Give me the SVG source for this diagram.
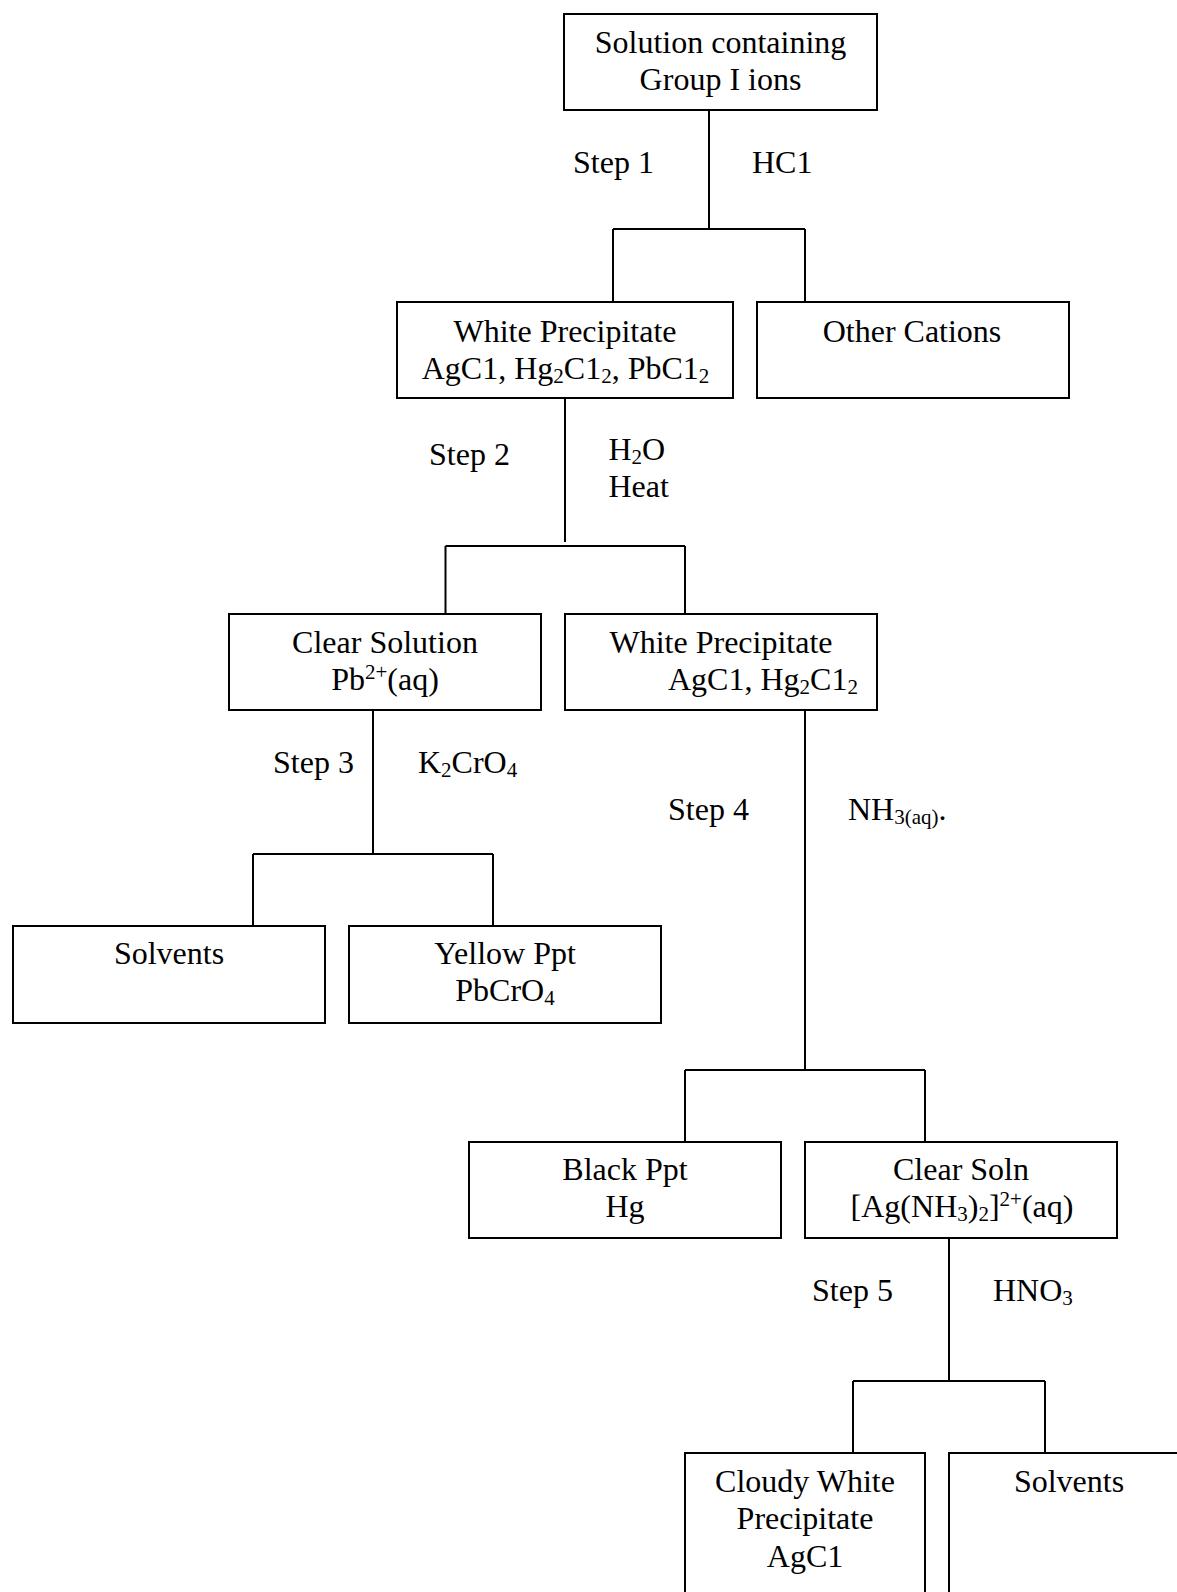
<svg xmlns="http://www.w3.org/2000/svg" width="1177" height="1592" viewBox="0 0 1177 1592">
<style>
.box{fill:#fff;stroke:#000;stroke-width:2}
.ln{fill:none;stroke:#000;stroke-width:2}
text{font-family:"Liberation Serif","Times New Roman",serif;font-size:32px;fill:#000}
.c{text-anchor:middle}
.s{font-size:21px}
</style>
<rect width="1177" height="1592" fill="#fff"/>
<g id="connectors">
<path class="ln" d="M709,110 V229 M613,229 H805 M613,229 V302 M805,229 V302"/>
<path class="ln" d="M565,398 V542 M445.5,546 H685 M445.5,546 V614 M685,546 V614"/>
<path class="ln" d="M373,710 V854 M253,854 H493 M253,854 V926 M493,854 V926"/>
<path class="ln" d="M805,710 V1070 M685,1070 H925 M685,1070 V1142 M925,1070 V1142"/>
<path class="ln" d="M949,1238 V1381 M853,1381 H1045 M853,1381 V1453 M1045,1381 V1453"/>
<text x="573" y="173">Step 1</text>
<text x="752" y="173">HC1</text>
<text x="429" y="465">Step 2</text>
<text x="608.5" y="460">H<tspan class="s" dy="4">2</tspan><tspan dy="-4">O</tspan></text>
<text x="608.5" y="497">Heat</text>
<text x="273" y="773">Step 3</text>
<text x="418" y="773">K<tspan class="s" dy="4">2</tspan><tspan dy="-4">CrO</tspan><tspan class="s" dy="4">4</tspan></text>
<text x="668" y="820">Step 4</text>
<text x="848" y="820">NH<tspan class="s" dy="4">3(aq)</tspan><tspan dy="-4">.</tspan></text>
<text x="812" y="1301">Step 5</text>
<text x="993" y="1301">HNO<tspan class="s" dy="4">3</tspan></text>
</g>
<g id="n1">
<rect class="box" x="564" y="14" width="313" height="96"/>
<text class="c" x="720.5" y="53">Solution containing</text>
<text class="c" x="720.5" y="90">Group I ions</text>
</g>
<g id="n2">
<rect class="box" x="397" y="302" width="336" height="96"/>
<text class="c" x="565" y="342">White Precipitate</text>
<text class="c" x="565.5" y="379">AgC1, Hg<tspan class="s" dy="4">2</tspan><tspan dy="-4">C1</tspan><tspan class="s" dy="4">2</tspan><tspan dy="-4">, PbC1</tspan><tspan class="s" dy="4">2</tspan></text>
</g>
<g id="n3">
<rect class="box" x="757" y="302" width="312" height="96"/>
<text class="c" x="912" y="342">Other Cations</text>
</g>
<g id="n4">
<rect class="box" x="229" y="614" width="312" height="96"/>
<text class="c" x="385" y="653">Clear Solution</text>
<text class="c" x="385" y="690">Pb<tspan class="s" dy="-11">2+</tspan><tspan dy="11">(aq)</tspan></text>
</g>
<g id="n5">
<rect class="box" x="565" y="614" width="312" height="96"/>
<text class="c" x="721" y="653">White Precipitate</text>
<text x="668" y="690">AgC1, Hg<tspan class="s" dy="4">2</tspan><tspan dy="-4">C1</tspan><tspan class="s" dy="4">2</tspan></text>
</g>
<g id="n6">
<rect class="box" x="13" y="926" width="312" height="97"/>
<text class="c" x="169" y="964">Solvents</text>
</g>
<g id="n7">
<rect class="box" x="349" y="926" width="312" height="97"/>
<text class="c" x="505" y="964">Yellow Ppt</text>
<text class="c" x="505" y="1001">PbCrO<tspan class="s" dy="4">4</tspan></text>
</g>
<g id="n8">
<rect class="box" x="469" y="1142" width="312" height="96"/>
<text class="c" x="625" y="1180">Black Ppt</text>
<text class="c" x="625" y="1217">Hg</text>
</g>
<g id="n9">
<rect class="box" x="805" y="1142" width="312" height="96"/>
<text class="c" x="961" y="1180">Clear Soln</text>
<text class="c" x="962" y="1217">[Ag(NH<tspan class="s" dy="4">3</tspan><tspan dy="-4">)</tspan><tspan class="s" dy="4">2</tspan><tspan dy="-4">]</tspan><tspan class="s" dy="-11">2+</tspan><tspan dy="11">(aq)</tspan></text>
</g>
<g id="n10">
<rect class="box" x="685" y="1453" width="240" height="200"/>
<text class="c" x="805" y="1492">Cloudy White</text>
<text class="c" x="805" y="1529">Precipitate</text>
<text class="c" x="805" y="1567">AgC1</text>
</g>
<g id="n11">
<rect class="box" x="949" y="1453" width="260" height="200"/>
<text class="c" x="1069" y="1492">Solvents</text>
</g>
</svg>
